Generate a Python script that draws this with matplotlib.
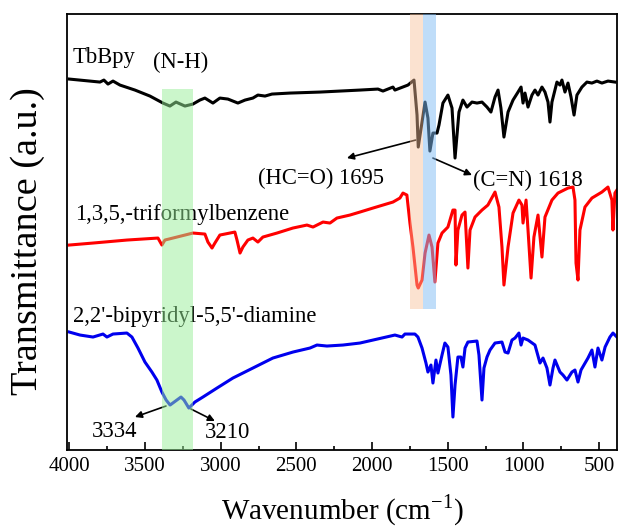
import matplotlib.pyplot as plt

plt.rcParams['font.family'] = ['Liberation Serif', 'DejaVu Serif']
plt.rcParams['mathtext.fontset'] = 'custom'
plt.rcParams['mathtext.rm'] = 'Liberation Serif'

# FTIR spectra, wavenumber (cm-1) vs offset transmittance (a.u.)
tbbpy_wn = [4000, 3797, 3771, 3744, 3711, 3665, 3566, 3467, 3381, 3335, 3295, 3236, 3183,
            3137, 3104, 3051, 3005, 2952, 2886, 2839, 2787, 2754, 2707, 2661, 2542, 2344,
            2212, 2080, 1961, 1928, 1862, 1849, 1763, 1723, 1703, 1695, 1670, 1650, 1631,
            1618, 1598, 1571, 1558, 1532, 1499, 1472, 1452, 1426, 1400, 1373, 1340, 1307,
            1274, 1241, 1215, 1188, 1168, 1149, 1129, 1102, 1069, 1036, 1016, 1003, 990,
            970, 944, 924, 904, 878, 858, 838, 825, 812, 779, 759, 746, 726, 706, 686, 666,
            647, 614, 581, 548, 515, 482, 442, 396]
tbbpy_t = [371, 368, 370, 366, 369, 365, 360, 354, 347, 344, 348, 344, 346,
           350, 352, 347, 352, 351, 347, 350, 352, 355, 354, 356, 357, 358,
           359, 360, 361, 359, 363, 360, 365, 370, 335, 303, 328, 348, 332,
           299, 317, 317, 325, 347, 355, 342, 292, 338, 350, 343, 348, 347,
           348, 343, 338, 353, 360, 342, 313, 338, 350, 358, 363, 347, 357,
           343, 355, 360, 355, 363, 358, 348, 328, 348, 368, 365, 370, 358, 367, 353, 335,
           355, 363, 368, 367, 369, 367, 369, 368]

tfb_wn = [4000, 3843, 3619, 3414, 3388, 3368, 3183, 3104, 3084, 3057, 3038, 3005, 2906,
          2892, 2872, 2853, 2820, 2787, 2754, 2721, 2628, 2523, 2430, 2390, 2324, 2278,
          2232, 2146, 2080, 1994, 1928, 1862, 1816, 1796, 1770, 1750, 1730, 1703, 1695,
          1670, 1650, 1624, 1604, 1585, 1565, 1538, 1499, 1466, 1452, 1446, 1433, 1406,
          1386, 1367, 1353, 1320, 1274, 1235, 1188, 1162, 1142, 1129, 1102, 1069, 1030,
          1010, 1003, 983, 970, 950, 931, 904, 878, 858, 812, 772, 706, 673, 660, 653, 640,
          627, 594, 548, 482, 442, 416, 409, 396, 383]
tfb_t = [205, 207, 210, 212, 205, 210, 217, 216, 208, 202, 207, 215, 218,
         210, 197, 203, 210, 212, 208, 213, 217, 222, 225, 223, 228, 227,
         232, 235, 238, 242, 245, 248, 252, 257, 255, 227, 203, 165, 162,
         170, 197, 215, 203, 168, 207, 217, 223, 240, 240, 185, 220, 235,
         238, 182, 220, 233, 240, 245, 258, 243, 203, 165, 203, 237, 250,
         245, 227, 250, 220, 172, 213, 235, 193, 233, 250, 257, 262, 263, 250, 187, 170,
         220, 243, 252, 258, 263, 250, 220, 257, 260]

bpy_wn = [4000, 3929, 3843, 3777, 3751, 3711, 3619, 3586, 3546, 3500, 3454, 3421, 3388,
          3360, 3334, 3289, 3262, 3242, 3210, 3170, 3117, 3024, 2919, 2787, 2655, 2522,
          2410, 2364, 2298, 2192, 2080, 1849, 1802, 1783, 1717, 1697, 1670, 1644, 1631,
          1611, 1598, 1578, 1565, 1538, 1519, 1499, 1479, 1466, 1452, 1433, 1413, 1400,
          1386, 1367, 1307, 1294, 1274, 1261, 1241, 1221, 1188, 1142, 1122, 1102, 1076,
          1056, 1030, 1016, 1003, 970, 924, 891, 871, 845, 825, 805, 792, 759, 739, 713,
          680, 660, 640, 620, 574, 548, 528, 508, 482, 461, 429, 409, 383]
bpy_t = [118, 115, 113, 116, 113, 116, 117, 113, 102, 88, 78, 70, 58,
         50, 45, 50, 53, 50, 42, 48, 53, 62, 72, 82, 92, 98,
         102, 105, 104, 105, 107, 115, 113, 116, 116, 113, 102, 87, 78,
         85, 67, 90, 77, 95, 107, 103, 75, 33, 65, 93, 93, 83,
         102, 108, 109, 95, 50, 82, 93, 100, 107, 108, 98, 97, 110,
         112, 117, 105, 112, 110, 105, 87, 92, 82, 65, 82, 90, 78, 75, 70,
         78, 80, 68, 80, 92, 100, 83, 102, 90, 103, 113, 117, 113]

fig = plt.figure(figsize=(6.2, 5.31), dpi=100)
ax = fig.add_axes([0.108, 0.1525, 0.887, 0.821])

ax.plot(tbbpy_wn, tbbpy_t, color='black', lw=2.2, zorder=2)
ax.plot(tfb_wn, tfb_t, color='#ff0000', lw=2.2, zorder=2)
ax.plot(bpy_wn, bpy_t, color='#0000ee', lw=2.2, zorder=2)

# highlighted bands
ax.fill_between([3390, 3180], 0, 361, color='#98ee98', alpha=0.5, lw=0, zorder=4)
ax.fill_between([1750, 1664], 141, 436, color='#f7bf98', alpha=0.45, lw=0, zorder=4)
ax.fill_between([1664, 1580], 141, 436, color='#80bcf5', alpha=0.5, lw=0, zorder=4)

fs = 16.3
ax.text(3975, 393, 'TbBpy', fontsize=fs, va='center')
ax.text(3447, 388, '(N-H)', fontsize=fs, va='center')
ax.text(3962, 236, '1,3,5,-triformylbenzene', fontsize=fs, va='center')
ax.text(3975, 134, "2,2'-bipyridyl-5,5'-diamine", fontsize=fs, va='center')
ax.text(2755, 272, '(HC=O) 1695', fontsize=fs, va='center')
ax.text(1333, 270, '(C=N) 1618', fontsize=fs, va='center')
ax.text(3850, 19, '3334', fontsize=fs, va='center')
ax.text(3104, 18, '3210', fontsize=fs, va='center')

arrow = dict(arrowstyle='-|>', color='black', lw=1.2, mutation_scale=10, shrinkA=0, shrinkB=0)
ax.annotate('', xy=(2166, 292), xytext=(1712, 310), arrowprops=arrow)
ax.annotate('', xy=(1340, 275), xytext=(1598, 292), arrowprops=arrow)
ax.annotate('', xy=(3566, 33), xytext=(3361, 44), arrowprops=arrow)
ax.annotate('', xy=(3038, 29), xytext=(3196, 41), arrowprops=arrow)

ax.set_xlim(4015, 383)
ax.set_ylim(0, 436)
ax.set_xticks([4000, 3500, 3000, 2500, 2000, 1500, 1000, 500])
ax.set_xticks([3750, 3250, 2750, 2250, 1750, 1250, 750], minor=True)
ax.tick_params(axis='x', which='major', direction='in', length=6, width=1.2, labelsize=15,
               top=False, pad=5)
ax.tick_params(axis='x', which='minor', direction='in', length=3, width=1.2, top=False)
ax.set_yticks([])
for s in ax.spines.values():
    s.set_linewidth(1.3)

ax.set_xlabel('Wavenumber (cm$^{\\mathregular{-1}}$)', fontsize=21, labelpad=12)
ax.set_ylabel('Transmittance (a.u.)', fontsize=27.5)
ax.yaxis.set_label_coords(-0.04, 0.48)

fig.savefig('out.png', dpi=100)
